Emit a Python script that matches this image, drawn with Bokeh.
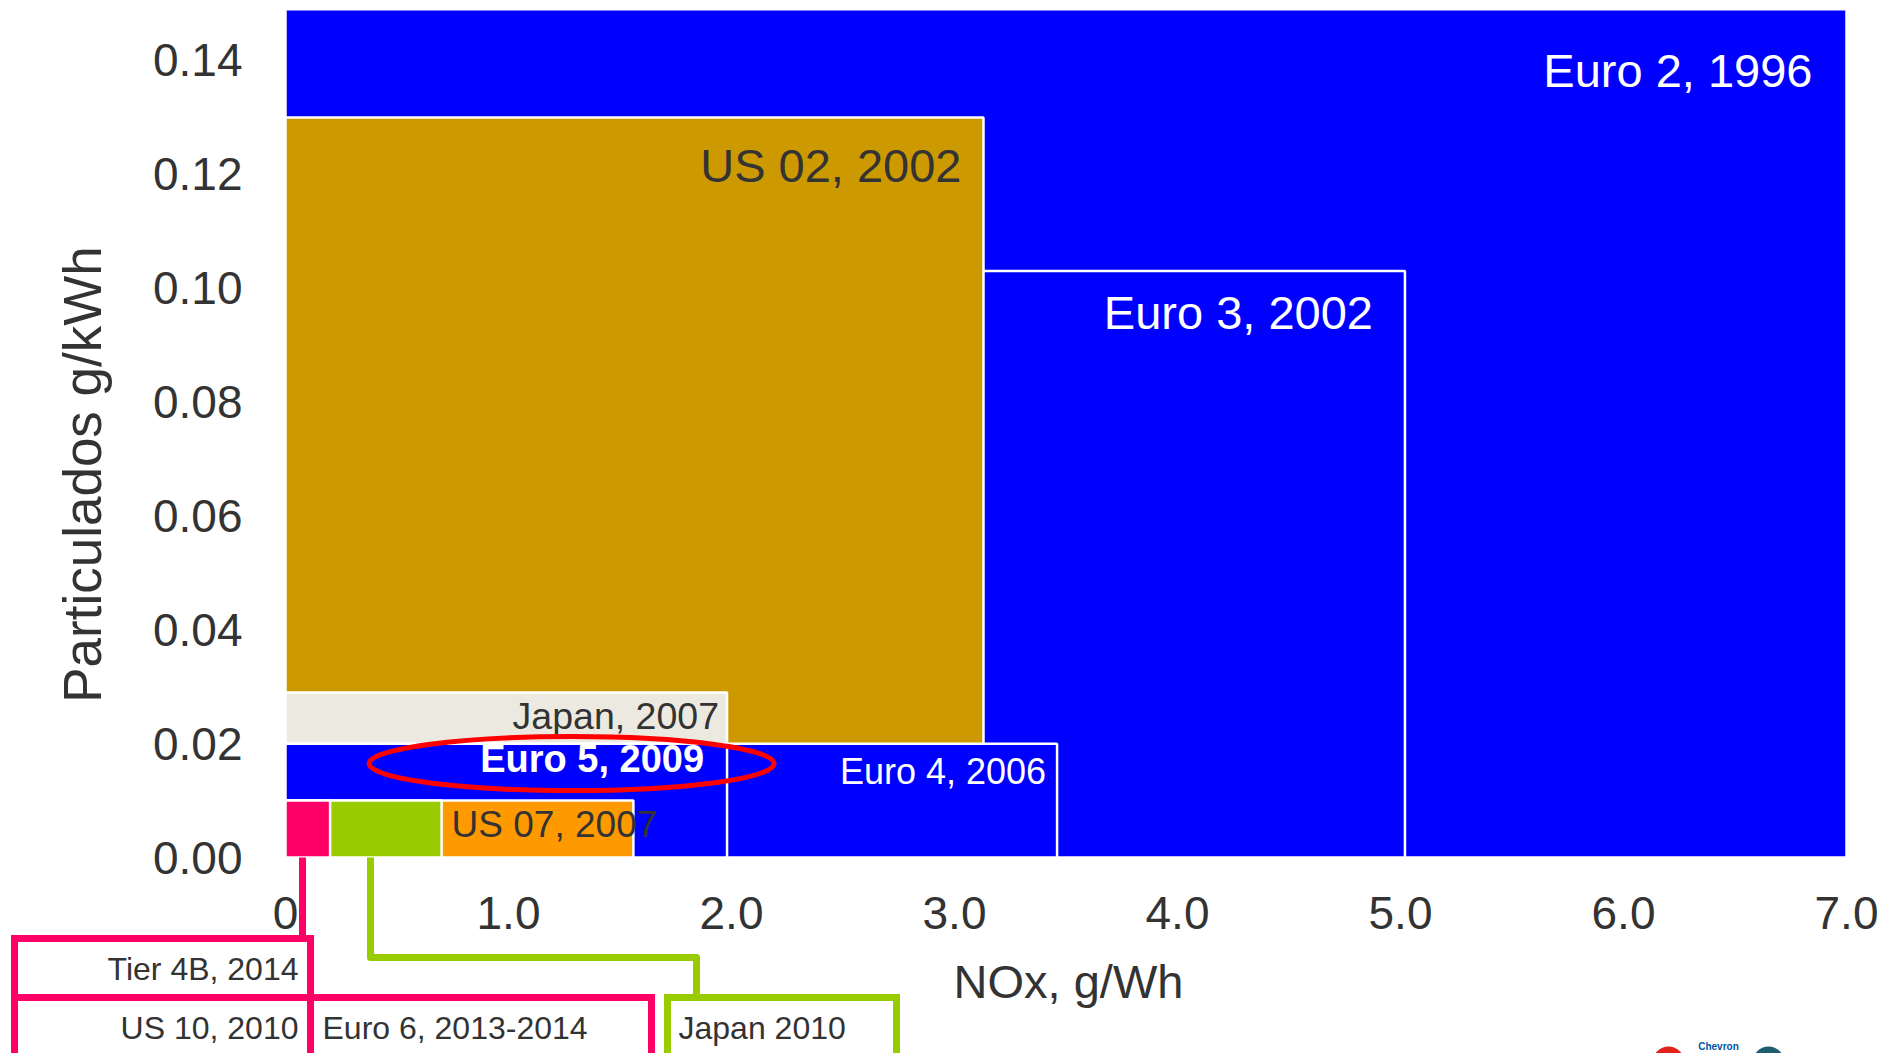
import math

from bokeh.core.properties import value
from bokeh.embed import file_html
from bokeh.models import Range1d
from bokeh.plotting import figure
from bokeh.resources import INLINE

# Heavy-duty diesel emission limits: NOx (g/kWh) against particulates (g/kWh).
# Drawn back to front, so the tighter limits sit on top of the older ones.
standards = ["Euro 2, 1996", "Euro 3, 2002", "US 02, 2002", "Japan, 2007",
             "Euro 4, 2006", "Euro 5, 2009", "US 07, 2007",
             "Euro 6 / Japan 2010", "US 10 / Tier 4B"]
nox_limit = [7.0, 5.02, 3.13, 1.98, 3.46, 1.98, 1.56, 0.7, 0.2]
pm_limit = [0.149, 0.103, 0.13, 0.029, 0.02, 0.02, 0.01, 0.01, 0.01]
region_colors = ["#0000FF", "#0000FF", "#CC9900", "#ECEAE0",
                 "#0000FF", "#0000FF", "#FF9900", "#99CC00", "#FF0066"]

x_ticks = [0, 1, 2, 3, 4, 5, 6, 7]
x_tick_labels = ["0", "1.0", "2.0", "3.0", "4.0", "5.0", "6.0", "7.0"]
y_ticks = [0.0, 0.02, 0.04, 0.06, 0.08, 0.10, 0.12, 0.14]
y_tick_labels = ["0.00", "0.02", "0.04", "0.06", "0.08", "0.10", "0.12", "0.14"]

x_title = "NOx, g/Wh"
y_title = "Particulados g/kWh"

# Callout boxes for the newest limits (the small cells at the origin)
callout_tier4b = "Tier 4B, 2014"
callout_us10 = "US 10, 2010"
callout_euro6 = "Euro 6, 2013-2014"
callout_japan10 = "Japan 2010"

# ---------------------------------------------------------------- layout
W, H = 1894, 1053
X0_PX, PX_PER_X = 285.0, 223.0      # screen x of NOx = 0, pixels per g/kWh
Y0_PX, PX_PER_Y = 857.0, 5693.0     # screen y of PM = 0, pixels per g/kWh


def dx(px):
    return (px - X0_PX) / PX_PER_X


def dy(py):
    return (Y0_PX - py) / PX_PER_Y


FONT = value("Liberation Sans")
DARK = "#333333"
PINK = "#FF0066"
GREEN = "#99CC00"

p = figure(width=W, height=H,
           x_range=Range1d(dx(0), dx(W)), y_range=Range1d(dy(H), dy(0)),
           x_axis_type=None, y_axis_type=None, title=None,
           toolbar_location=None, output_backend="svg", min_border=0)
p.outline_line_color = None
p.background_fill_color = "white"
p.border_fill_color = "white"

# limit regions
for name, nx, pm, col in zip(standards, nox_limit, pm_limit, region_colors):
    p.quad(left=[0], right=[nx], bottom=[0], top=[pm],
           fill_color=col, line_color="white", line_width=2.5)

# region labels: (text, align, x offset px, y offset px, colour, size, style)
idx = {n: i for i, n in enumerate(standards)}
region_labels = [
    ("Euro 2, 1996", "right", -34, 61, "white", "47px", "normal"),
    ("US 02, 2002", "right", -22, 48, DARK, "47px", "normal"),
    ("Euro 3, 2002", "right", -32, 41, "white", "47px", "normal"),
    ("Japan, 2007", "right", -8, 24, DARK, "37.5px", "normal"),
    ("Euro 4, 2006", "right", -11, 28, "white", "36px", "normal"),
    ("Euro 5, 2009", "right", -23, 15, "white", "38px", "bold"),
]
for text, align, xo, yo, col, size, style in region_labels:
    i = idx[text]
    p.text(x=[nox_limit[i]], y=[pm_limit[i]], text=[text],
           x_offset=xo, y_offset=yo, text_align=align, text_baseline="middle",
           text_color=col, text_font=FONT, text_font_size=size,
           text_font_style=style)

# US 07 label starts just right of the green Euro 6 / Japan 2010 cell
i_us07 = idx["US 07, 2007"]
i_green = idx["Euro 6 / Japan 2010"]
p.text(x=[nox_limit[i_green]], y=[pm_limit[i_us07]], text=["US 07, 2007"],
       x_offset=10, y_offset=24, text_align="left", text_baseline="middle",
       text_color=DARK, text_font=FONT, text_font_size="37px")

# highlight ring round the Euro 5 label
ring_x, ring_y, ring_w, ring_h = 1.283, 0.0165, 1.816, 0.0095
p.ellipse(x=[ring_x], y=[ring_y], width=[ring_w], height=[ring_h],
          fill_color=None, line_color="#FF0000", line_width=5)

# tick labels
p.text(x=x_ticks, y=[dy(912)] * len(x_ticks), text=x_tick_labels,
       text_align="center", text_baseline="middle", text_color=DARK,
       text_font=FONT, text_font_size="46px")
p.text(x=[dx(242)] * len(y_ticks), y=y_ticks, text=y_tick_labels,
       text_align="right", text_baseline="middle", text_color=DARK,
       text_font=FONT, text_font_size="46px")

# axis titles
p.text(x=[dx(1068)], y=[dy(981)], text=[x_title], text_align="center",
       text_baseline="middle", text_color=DARK, text_font=FONT,
       text_font_size="47px")
p.text(x=[dx(82)], y=[dy(474)], text=[y_title], angle=math.pi / 2,
       text_align="center", text_baseline="middle", text_color=DARK,
       text_font=FONT, text_font_size="53px")

# callout leaders and boxes below the axis
p.line(x=[dx(302), dx(302)], y=[dy(857), dy(938)], line_color=PINK,
       line_width=7)
p.line(x=[dx(370), dx(370), dx(696), dx(696)],
       y=[dy(857), dy(957), dy(957), dy(997)], line_color=GREEN,
       line_width=7, line_join="round")


def box(l, r, t, b, col):
    p.quad(left=[dx(l)], right=[dx(r)], top=[dy(t)], bottom=[dy(b)],
           fill_color=None, line_color=col, line_width=7, line_join="miter")


box(14, 310, 938, 997, PINK)
box(14, 310, 997, 1058, PINK)
box(310, 651, 997, 1058, PINK)
box(667, 896, 997, 1058, GREEN)

for text, xpx, ypx, align in [(callout_tier4b, 298, 968, "right"),
                              (callout_us10, 298, 1027, "right"),
                              (callout_euro6, 322, 1027, "left"),
                              (callout_japan10, 678, 1027, "left")]:
    p.text(x=[dx(xpx)], y=[dy(ypx)], text=[text], text_align=align,
           text_baseline="middle", text_color=DARK, text_font=FONT,
           text_font_size="32px")

# corner logo, mostly below the page edge
p.circle(x=[dx(1668)], y=[dy(1062)], radius=16, radius_units="screen",
         fill_color="#E2231A", line_color=None)
p.circle(x=[dx(1768)], y=[dy(1062)], radius=16, radius_units="screen",
         fill_color="#1D5D6E", line_color=None)
p.text(x=[dx(1718)], y=[dy(1046)], text=["Chevron"], text_align="center",
       text_baseline="middle", text_color="#0054A4", text_font=FONT,
       text_font_size="10px", text_font_style="bold")

open("out.html", "w").write(file_html(p, INLINE))
